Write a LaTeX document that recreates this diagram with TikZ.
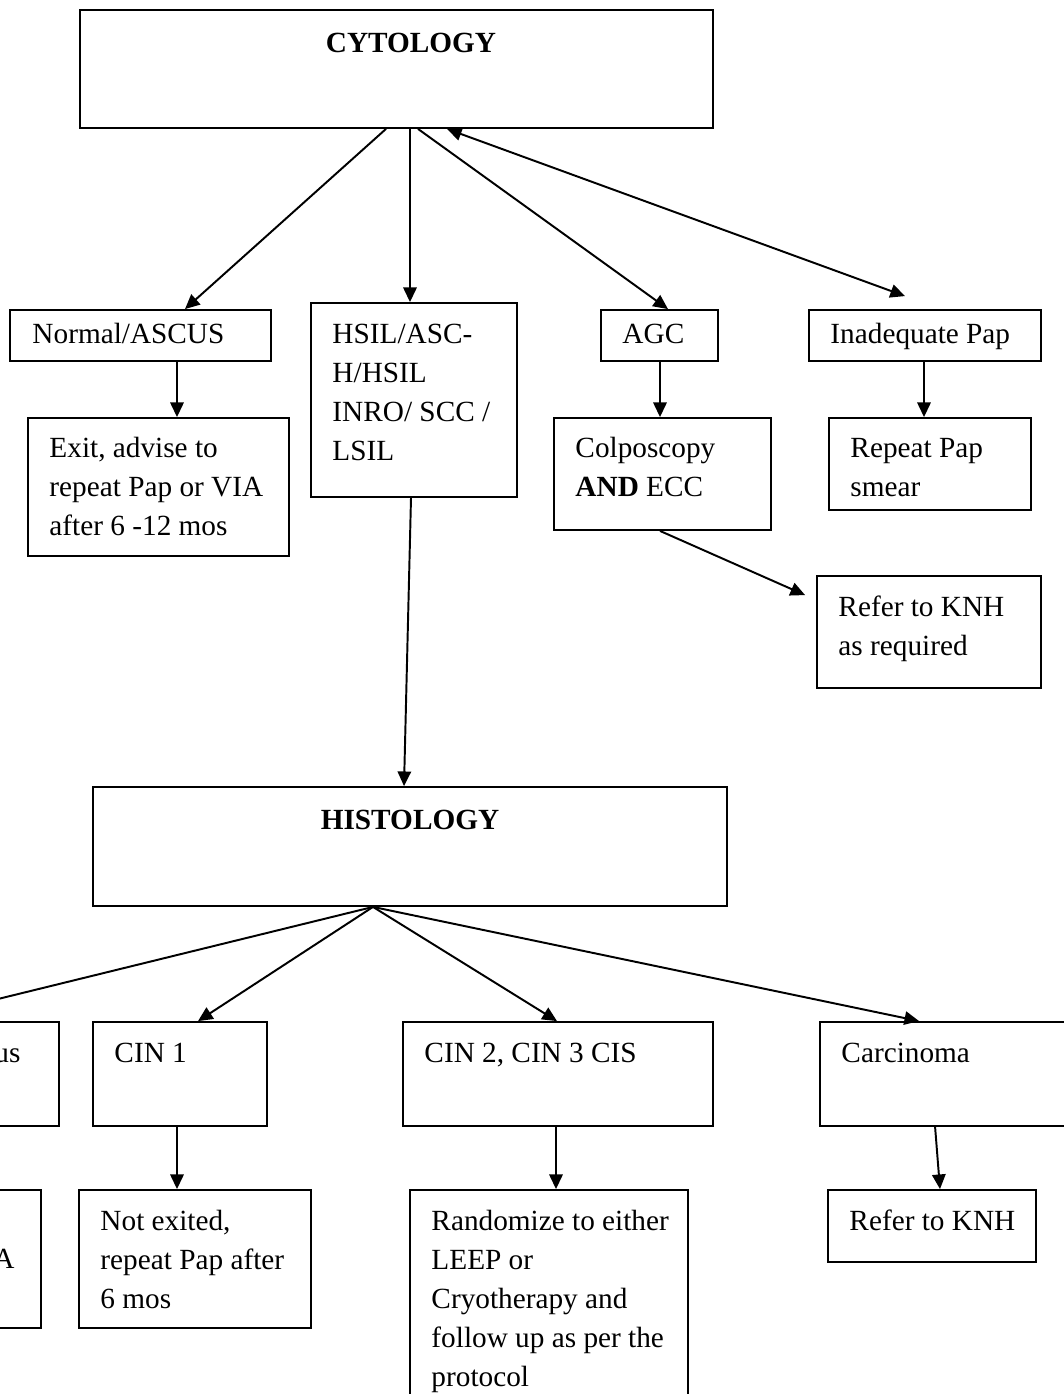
\documentclass[tikz,border=0pt]{standalone}
\usepackage{fontspec}
\setmainfont{Liberation Serif}
\usetikzlibrary{arrows.meta,fit,calc}

\tikzset{
  flowbox/.style={draw, line width=0.75pt, inner sep=0pt},
  flowtext/.style={anchor=north west, inner sep=0pt, align=left, font=\fontsize{12}{16}\selectfont},
  flowhead/.style={anchor=base, inner sep=0pt, font=\fontsize{12}{16}\selectfont\bfseries},
  flowarrow/.style={line width=0.8pt, -{Triangle[length=6pt,width=5.5pt]}},
}

\begin{document}
\begin{tikzpicture}[x=0.41pt, y=-0.41pt]
  \useasboundingbox (0,0) rectangle (1064,1394);
  \clip (0,0) rectangle (1064,1394);

  % cytology level
  \node[flowbox, fit={(80,10) (713,128)}] (cyto) {};
  \node[flowhead] (cytotxt) at (411,52) {CYTOLOGY};

  \node[flowbox, fit={(10,310) (271,361)}] (normal) {};
  \node[flowtext] (normaltxt) at (32,316) {\strut Normal/ASCUS};

  \node[flowbox, fit={(311,303) (517,497)}] (hsil) {};
  \node[flowtext] (hsiltxt) at (332,316) {\strut HSIL/ASC-\\H/HSIL\\INRO/ SCC /\\LSIL};

  \node[flowbox, fit={(601,310) (718,361)}] (agc) {};
  \node[flowtext] (agctxt) at (622,316) {\strut AGC};

  \node[flowbox, fit={(809,310) (1041,361)}] (inad) {};
  \node[flowtext] (inadtxt) at (830,316) {\strut Inadequate Pap};

  \node[flowbox, fit={(28,418) (289,556)}] (exit) {};
  \node[flowtext] (exittxt) at (49,430) {\strut Exit, advise to\\repeat Pap or VIA\\after 6 -12 mos};

  \node[flowbox, fit={(554,418) (771,530)}] (colpo) {};
  \node[flowtext] (colpotxt) at (575,430) {\strut Colposcopy\\\textbf{AND} ECC};

  \node[flowbox, fit={(829,418) (1031,510)}] (repeat) {};
  \node[flowtext] (repeattxt) at (850,430) {\strut Repeat Pap\\smear};

  \node[flowbox, fit={(817,576) (1041,688)}] (knhone) {};
  \node[flowtext] (knhonetxt) at (838,589) {\strut Refer to KNH\\as required};

  % histology level
  \node[flowbox, fit={(93,787) (727,906)}] (histo) {};
  \node[flowhead] (histotxt) at (410,829) {HISTOLOGY};

  \node[flowbox, fit={(-150,1022) (59,1126)}] (left) {};
  \node[flowtext, anchor=north east] (lefttxt) at (21,1035) {\strut us};

  \node[flowbox, fit={(93,1022) (267,1126)}] (cinone) {};
  \node[flowtext] (cinonetxt) at (114,1035) {\strut CIN 1};

  \node[flowbox, fit={(403,1022) (713,1126)}] (cintwo) {};
  \node[flowtext] (cintwotxt) at (424,1035) {\strut CIN 2, CIN 3 CIS};

  \node[flowbox, fit={(820,1022) (1200,1126)}] (carc) {};
  \node[flowtext] (carctxt) at (841,1035) {\strut Carcinoma};

  \node[flowbox, fit={(-200,1190) (41,1328)}] (leftlow) {};
  \node[flowtext, anchor=north east] (leftlowtxt) at (15,1241) {\strut A};

  \node[flowbox, fit={(79,1190) (311,1328)}] (exited) {};
  \node[flowtext] (exitedtxt) at (100,1203) {\strut Not exited,\\repeat Pap after\\6 mos};

  \node[flowbox, fit={(410,1190) (688,1450)}] (random) {};
  \node[flowtext] (randomtxt) at (431,1203) {\strut Randomize to either\\LEEP or\\Cryotherapy and\\follow up as per the\\protocol};

  \node[flowbox, fit={(828,1190) (1036,1262)}] (knhtwo) {};
  \node[flowtext] (knhtwotxt) at (849,1203) {\strut Refer to KNH};

  % connectors
  \draw[flowarrow] ($(cyto.south)+(-10.5,0)$) -- ($(normal.north)+(44.5,0)$);
  \draw[flowarrow] ($(cyto.south)+(13.5,0)$) -- ($(hsil.north)+(-4,0)$);
  \draw[flowarrow] ($(cyto.south)+(21.5,0)$) -- ($(agc.north)+(8.5,0)$);
  \draw[flowarrow, {Triangle[length=6pt,width=5.5pt]}-{Triangle[length=6pt,width=5.5pt]}]
    ($(cyto.south)+(50.5,0)$) -- ($(inad.north)+(-20,-13)$);
  \draw[flowarrow] ($(normal.south)+(36.5,0)$) -- ($(exit.north)+(18.5,0)$);
  \draw[flowarrow] ($(agc.south)+(0.5,0)$) -- ($(colpo.north)+(-2.5,0)$);
  \draw[flowarrow] ($(inad.south)+(-1,0)$) -- ($(repeat.north)+(-6,0)$);
  \draw[flowarrow] ($(colpo.south)+(-2.5,0)$) -- ($(knhone.north west)+(-11,20)$);
  \draw[flowarrow] ($(hsil.south)+(-3,0)$) -- ($(histo.north)+(-6,0)$);

  \draw[flowarrow] ($(histo.south)+(-37,0)$) -- ($(left.north)+(-46.5,0)$);
  \draw[flowarrow] ($(histo.south)+(-37,0)$) -- ($(cinone.north)+(18,0)$);
  \draw[flowarrow] ($(histo.south)+(-37,0)$) -- ($(cintwo.north)+(-1,0)$);
  \draw[flowarrow] ($(histo.south)+(-37,0)$) -- ($(carc.north west)+(100,0)$);
  \draw[flowarrow] ($(cinone.south)+(-3,0)$) -- ($(exited.north)+(-18,0)$);
  \draw[flowarrow] ($(cintwo.south)+(-2,0)$) -- ($(random.north)+(7,0)$);
  \draw[flowarrow] ($(carc.south west)+(116,0)$) -- ($(knhtwo.north)+(8,0)$);
\end{tikzpicture}
\end{document}
